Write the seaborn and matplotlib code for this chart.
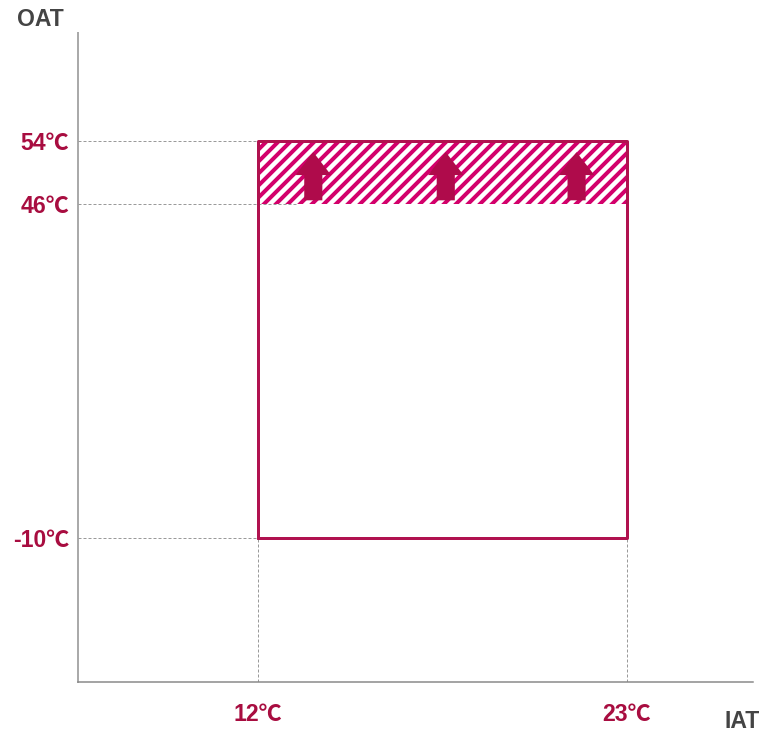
import numpy as np
import pandas as pd
import matplotlib
matplotlib.use("Agg")
import matplotlib.pyplot as plt
import seaborn as sns

# ---- data ----
iat_range = [12, 23]            # indoor air temperature limits (°C)
oat_range = [-10, 54]           # outdoor air temperature limits (°C)
oat_boost = 46                  # lower limit of extended (hatched) zone
arrow_x = [13.65, 17.6, 21.5]   # arrow centres (°C IAT)
arrow_y = [46.5, 52.6]          # arrow tail / tip (°C OAT)
y_ticks = [54, 46, -10]
y_labels = ["54℃", "46℃", "-10℃"]
x_ticks = [12, 23]
x_labels = ["12℃", "23℃"]

# ---- style ----
sns.set_theme(style="white")
plt.rcParams['font.family'] = ['Liberation Sans', 'Noto Sans CJK SC', 'DejaVu Sans']
DPI = 72
EDGE = "#B0124F"
HATCH = "#D3006B"
ARROW = "#AF0B4B"
LABEL = "#A80D40"
GRID = "#9a9a9a"
plt.rcParams['hatch.linewidth'] = 4.0
plt.rcParams['hatch.color'] = HATCH

fig = plt.figure(figsize=(763 / DPI, 733 / DPI), dpi=DPI)
ax = fig.add_axes([78 / 763, 51 / 733, 675 / 763, 649 / 733])

# schematic (piecewise linear) vertical scale: band above 46 stretched
K = 1.325
def fwd(v):
    v = np.asarray(v, dtype=float)
    return np.where(v <= oat_boost, v, oat_boost + (v - oat_boost) * K)
def inv(u):
    u = np.asarray(u, dtype=float)
    return np.where(u <= oat_boost, u, oat_boost + (u - oat_boost) / K)
ax.set_yscale("function", functions=(fwd, inv))

ax.set_xlim(6.635, 26.76)
ax.set_ylim(-34.2, 67.7)

# dashed guide lines
xl = ax.get_xlim()[0]
yl = ax.get_ylim()[0]
for yv in y_ticks:
    ax.plot([xl, iat_range[0] + 1.15], [yv, yv], color=GRID, lw=1.0,
            ls=(0, (3, 2)), zorder=4)
for xv in x_ticks:
    ax.plot([xv, xv], [yl, oat_range[0]], color=GRID, lw=1.0,
            ls=(0, (3, 2)), zorder=1)

# hatched extended zone
ax.fill_between(iat_range, oat_boost, oat_range[1], facecolor="white",
                edgecolor=HATCH, hatch="//", linewidth=0, zorder=2)

# operating range outline
rect = pd.DataFrame({
    "IAT": [iat_range[0], iat_range[1], iat_range[1], iat_range[0], iat_range[0]],
    "OAT": [oat_range[0], oat_range[0], oat_range[1], oat_range[1], oat_range[0]],
})
sns.lineplot(data=rect, x="IAT", y="OAT", sort=False, estimator=None,
             color=EDGE, lw=3, ax=ax, zorder=5)

# upward arrows
for xa in arrow_x:
    ax.arrow(xa, arrow_y[0], 0, arrow_y[1] - arrow_y[0], width=0.54,
             head_width=1.06, head_length=2.9, length_includes_head=True,
             color=ARROW, lw=0, zorder=6)

# axes / ticks
ax.set_yticks(y_ticks, y_labels)
ax.set_xticks(x_ticks, x_labels)
ax.tick_params(axis="y", length=0, pad=9, labelsize=23, labelcolor=LABEL)
ax.tick_params(axis="x", length=0, pad=21, labelsize=23, labelcolor=LABEL)
for lab in ax.get_xticklabels() + ax.get_yticklabels():
    lab.set_fontweight("bold")
ax.set_xlabel("")
ax.set_ylabel("")
sns.despine(ax=ax)
ax.spines["left"].set_color("#aaaaaa")
ax.spines["left"].set_linewidth(2)
ax.spines["bottom"].set_color("#888888")
ax.spines["bottom"].set_linewidth(1.5)

fig.text(17 / 763, 1 - 20 / 733, "OAT", fontsize=23, fontweight="bold",
         color="#444444", va="center", ha="left")
fig.text(724 / 763, 1 - 722 / 733, "IAT", fontsize=23, fontweight="bold",
         color="#444444", va="center", ha="left")

fig.savefig("out.png", dpi=DPI, facecolor="white")
